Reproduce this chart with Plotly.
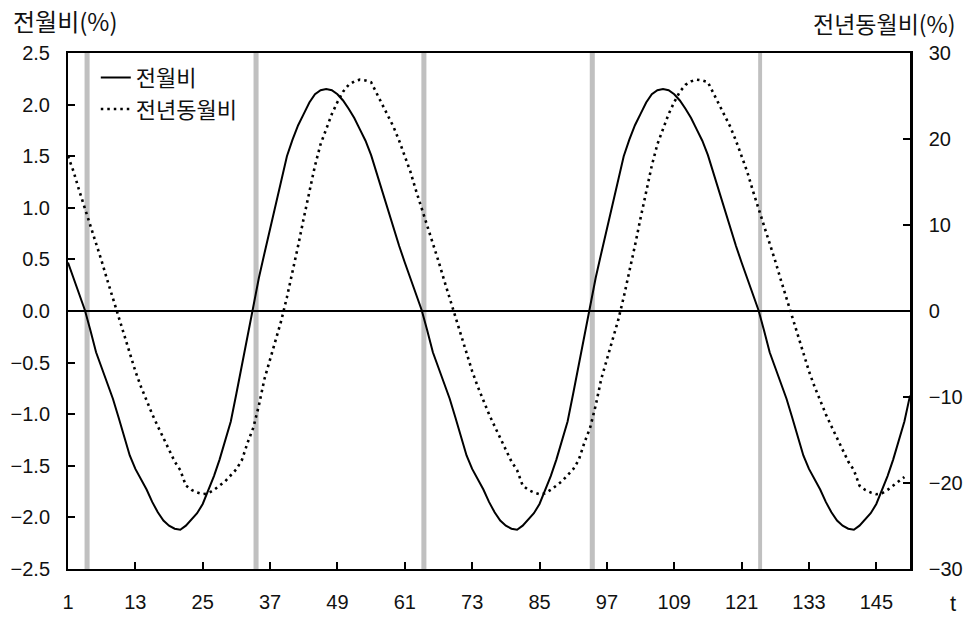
import plotly.graph_objects as go

# ---- data ----
t_mom = list(range(1, 152))
mom = [
    # t = 1..60
    0.47, 0.32, 0.16, 0.01, -0.19, -0.40, -0.55, -0.70, -0.85, -1.03,
    -1.21, -1.40, -1.53, -1.63, -1.73, -1.85, -1.95, -2.03, -2.08, -2.11,
    -2.12, -2.08, -2.02, -1.96, -1.87, -1.74, -1.60, -1.44, -1.26, -1.07,
    -0.80, -0.52, -0.24, 0.05, 0.32, 0.56, 0.79, 1.05, 1.28, 1.50,
    1.66, 1.80, 1.91, 2.02, 2.10, 2.14, 2.15, 2.14, 2.10, 2.04,
    1.96, 1.87, 1.76, 1.65, 1.51, 1.33, 1.15, 0.98, 0.80, 0.63,
    # t = 61..120
    0.47, 0.32, 0.16, 0.01, -0.19, -0.40, -0.55, -0.70, -0.85, -1.03,
    -1.21, -1.40, -1.53, -1.63, -1.73, -1.85, -1.95, -2.03, -2.08, -2.11,
    -2.12, -2.08, -2.02, -1.96, -1.87, -1.74, -1.60, -1.44, -1.26, -1.07,
    -0.80, -0.52, -0.24, 0.05, 0.32, 0.56, 0.79, 1.05, 1.28, 1.50,
    1.66, 1.80, 1.91, 2.02, 2.10, 2.14, 2.15, 2.14, 2.10, 2.04,
    1.96, 1.87, 1.76, 1.65, 1.51, 1.33, 1.15, 0.98, 0.80, 0.63,
    # t = 121..151
    0.47, 0.32, 0.16, 0.01, -0.19, -0.40, -0.55, -0.70, -0.85, -1.03,
    -1.21, -1.40, -1.53, -1.63, -1.73, -1.85, -1.95, -2.03, -2.08, -2.11,
    -2.12, -2.08, -2.02, -1.96, -1.87, -1.74, -1.60, -1.44, -1.26, -1.07,
    -0.82,
]

t_yoy = list(range(1, 151))
yoy = [
    # t = 1..60
    18.0, 16.2, 14.0, 12.0, 10.0, 7.8, 5.8, 3.6, 1.5, -0.5,
    -2.6, -4.7, -7.0, -8.8, -10.5, -12.0, -13.4, -14.8, -16.2, -17.5,
    -18.5, -20.3, -20.8, -21.1, -21.3, -21.2, -20.8, -20.3, -19.8, -19.1,
    -18.4, -17.3, -15.3, -13.6, -11.0, -7.9, -5.7, -3.3, -1.1, 1.6,
    4.5, 7.6, 10.8, 13.8, 16.9, 19.4, 21.2, 22.9, 24.3, 25.5,
    26.3, 26.7, 26.9, 26.8, 26.6, 25.3, 23.9, 22.6, 21.4, 19.8,
    # t = 61..120
    18.0, 16.2, 14.0, 12.0, 10.0, 7.8, 5.8, 3.6, 1.5, -0.5,
    -2.6, -4.7, -7.0, -8.8, -10.5, -12.0, -13.4, -14.8, -16.2, -17.5,
    -18.5, -20.3, -20.8, -21.1, -21.3, -21.2, -20.8, -20.3, -19.8, -19.1,
    -18.4, -17.3, -15.3, -13.6, -11.0, -7.9, -5.7, -3.3, -1.1, 1.6,
    4.5, 7.6, 10.8, 13.8, 16.9, 19.4, 21.2, 22.9, 24.3, 25.5,
    26.3, 26.7, 26.9, 26.8, 26.6, 25.3, 23.9, 22.6, 21.4, 19.8,
    # t = 121..150
    18.0, 16.2, 14.0, 12.0, 10.0, 7.8, 5.8, 3.6, 1.5, -0.5,
    -2.6, -4.7, -7.0, -8.8, -10.5, -12.0, -13.4, -14.8, -16.2, -17.5,
    -18.5, -20.3, -20.8, -21.1, -21.3, -21.2, -20.8, -20.3, -19.8, -19.3,
]

x_ticks = [1, 13, 25, 37, 49, 61, 73, 85, 97, 109, 121, 133, 145]
left_ticks = [-2.5, -2.0, -1.5, -1.0, -0.5, 0.0, 0.5, 1.0, 1.5, 2.0, 2.5]
right_ticks = [-30, -20, -10, 0, 10, 20, 30]
shade_t = [4.4, 34.5, 64.4, 94.4, 124.3]
shade_w = [0.9, 0.9, 0.9, 0.9, 0.7]

FONT = "Liberation Sans, Noto Sans CJK KR, sans-serif"
KFONT = "Noto Sans CJK KR, Liberation Sans, sans-serif"

fig = go.Figure()
fig.add_trace(go.Scatter(x=t_mom, y=mom, name="전월비", mode="lines",
                         line=dict(color="black", width=2)))
fig.add_trace(go.Scatter(x=t_yoy, y=yoy, name="전년동월비", mode="lines", yaxis="y2",
                         line=dict(color="black", width=2.6, dash="2.5px,4px")))

for c, w in zip(shade_t, shade_w):
    fig.add_shape(type="rect", xref="x", yref="paper", x0=c - w / 2, x1=c + w / 2,
                  y0=0, y1=1, fillcolor="#c0c0c0", line=dict(width=0), layer="below")

fig.update_layout(
    width=971, height=619,
    margin=dict(l=67.5, r=61, t=52.5, b=49.7),
    plot_bgcolor="white", paper_bgcolor="white",
    font=dict(family=FONT, size=20, color="#111"),
    showlegend=True,
    legend=dict(x=0.033, y=0.993, xanchor="left", yanchor="top",
                bgcolor="rgba(0,0,0,0)", font=dict(family=KFONT, size=22),
                tracegroupgap=0),
    xaxis=dict(range=[1, 151], tickvals=x_ticks, ticks="inside", ticklen=7,
               tickwidth=1.5, tickcolor="black", showline=True, linewidth=2,
               linecolor="black", mirror=True, showgrid=False, zeroline=False,
               ticklabelstandoff=14, automargin=False),
    yaxis=dict(range=[-2.5, 2.5], tickvals=left_ticks, tickformat=".1f",
               ticks="inside", ticklen=7, tickwidth=1.5, tickcolor="black",
               showline=True, linewidth=2, linecolor="black", showgrid=False,
               zeroline=True, zerolinecolor="black", zerolinewidth=1.6,
               ticklabelstandoff=12, automargin=False),
    yaxis2=dict(range=[-30, 30], tickvals=right_ticks, overlaying="y", side="right",
                ticks="inside", ticklen=7, tickwidth=1.5, tickcolor="black",
                showline=True, linewidth=2.5, linecolor="black", showgrid=False,
                zeroline=False, ticklabelstandoff=12, automargin=False),
    annotations=[
        dict(text="전월비(%)", xref="paper", yref="paper", x=-0.0682, y=1.063,
             xanchor="left", yanchor="middle", showarrow=False,
             font=dict(family=KFONT, size=24)),
        dict(text="전년동월비(%)", xref="paper", yref="paper", x=1.057, y=1.058,
             xanchor="right", yanchor="middle", showarrow=False,
             font=dict(family=KFONT, size=23)),
        dict(text="t", xref="paper", yref="paper", x=1.0515, y=-0.066,
             xanchor="center", yanchor="middle", showarrow=False,
             font=dict(size=22)),
    ],
)

# remove the browser's default 8px body margin so the figure fills the window exactly
fig.write_html("out.html",
               config={"displayModeBar": False},
               post_script="document.body.style.margin='0';document.body.style.overflow='hidden';")
